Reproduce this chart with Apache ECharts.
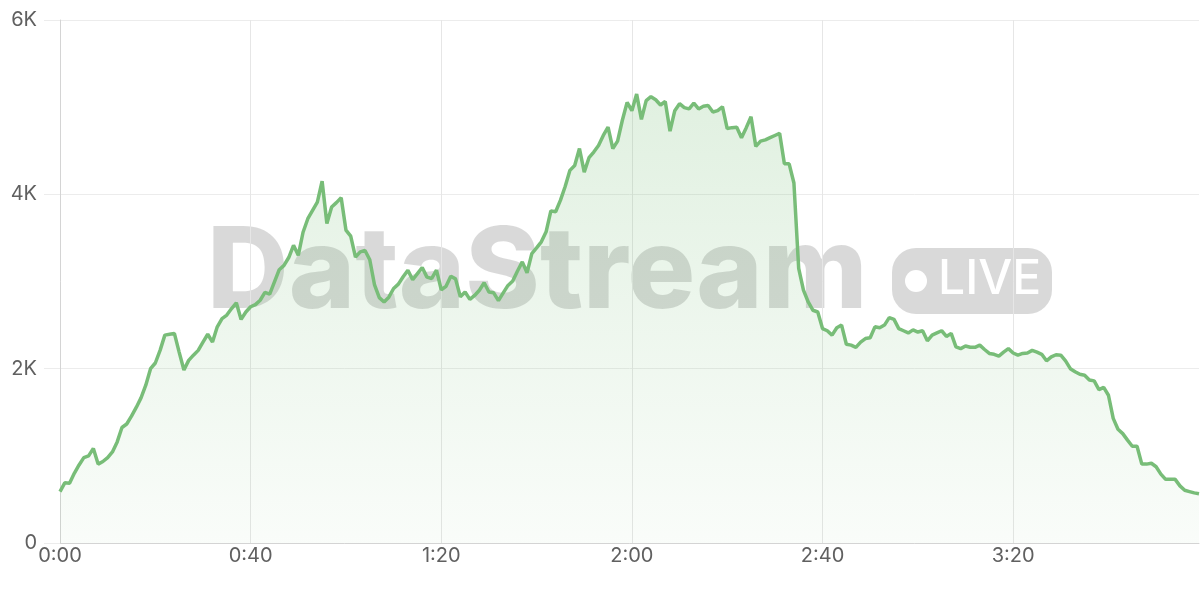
<!DOCTYPE html>
<html>
<head>
<meta charset="utf-8">
<script src="https://cdn.jsdelivr.net/npm/echarts@6/dist/echarts.min.js"></script>
<style>
html,body{margin:0;padding:0;background:#fff;}
#chart{width:1200px;height:600px;}
</style>
</head>
<body>
<div id="chart"></div>
<script>
// minute-by-minute viewer counts, 0:00 .. 3:59
const minutes = Array.from({length: 240}, (_, i) => Math.floor(i / 60) + ':' + String(i % 60).padStart(2, '0'));
const viewers = [
  590, 690, 685, 800, 895, 980, 1000, 1085, 905, 935,
  980, 1045, 1160, 1325, 1365, 1455, 1555, 1665, 1810, 2000,
  2065, 2210, 2385, 2395, 2405, 2190, 1985, 2095, 2155, 2210,
  2305, 2395, 2305, 2480, 2575, 2615, 2690, 2755, 2565, 2650,
  2710, 2735, 2785, 2875, 2855, 2995, 3135, 3185, 3275, 3415,
  3300, 3565, 3720, 3815, 3910, 4150, 3665, 3855, 3905, 3960,
  3590, 3520, 3280, 3340, 3355, 3250, 2960, 2815, 2765, 2820,
  2920, 2970, 3055, 3130, 3020, 3090, 3160, 3050, 3035, 3130,
  2905, 2945, 3060, 3030, 2825, 2880, 2795, 2840, 2900, 2985,
  2880, 2870, 2780, 2870, 2955, 3005, 3120, 3225, 3100, 3320,
  3385, 3455, 3570, 3810, 3800, 3930, 4090, 4275, 4330, 4525,
  4255, 4420, 4485, 4560, 4675, 4770, 4525, 4610, 4850, 5055,
  4960, 5150, 4860, 5075, 5120, 5085, 5025, 5065, 4725, 4960,
  5040, 4995, 4980, 5045, 4980, 5010, 5020, 4945, 4960, 5005,
  4755, 4765, 4770, 4650, 4765, 4890, 4550, 4610, 4625, 4650,
  4675, 4700, 4350, 4350, 4130, 3150, 2900, 2765, 2670, 2650,
  2460, 2435, 2385, 2470, 2500, 2280, 2270, 2245, 2305, 2345,
  2355, 2480, 2470, 2500, 2585, 2565, 2460, 2435, 2410, 2445,
  2420, 2435, 2320, 2385, 2410, 2435, 2370, 2405, 2250, 2230,
  2260, 2245, 2245, 2270, 2220, 2175, 2165, 2145, 2190, 2230,
  2180, 2155, 2175, 2180, 2210, 2190, 2165, 2090, 2135, 2160,
  2155, 2090, 2000, 1965, 1935, 1925, 1870, 1860, 1760, 1785,
  1695, 1430, 1305, 1255, 1180, 1110, 1110, 905, 905, 915,
  875, 790, 730, 730, 730, 655, 605, 590, 575, 565
];
const yTicks = [0, 2000, 4000, 6000];
const yTickLabels = ['0', '2K', '4K', '6K'];

const chart = echarts.init(document.getElementById('chart'), null, {renderer: 'canvas'});
const FONT = 'Inter, "Noto Sans", sans-serif';
chart.setOption({
  animation: false,
  backgroundColor: '#ffffff',
  grid: {left: 60, right: 1, top: 20, bottom: 57, containLabel: false},
  graphic: [
    {
      type: 'text', z: 0, left: 207, top: 218,
      style: {text: 'DataStream', fontFamily: FONT, fontWeight: 800, fontSize: 113,
              fill: 'rgba(0,0,0,0.15)'}
    },
    {
      type: 'rect', z: 0,
      shape: {x: 892, y: 248, width: 160, height: 66, r: 24},
      style: {fill: 'rgba(0,0,0,0.15)'}
    },
    {
      type: 'circle', z: 0,
      shape: {cx: 916, cy: 281, r: 11},
      style: {fill: '#ffffff'}
    },
    {
      type: 'text', z: 0, left: 938, top: 256,
      style: {text: 'LIVE', fontFamily: FONT, fontWeight: 500, fontSize: 48, fill: '#ffffff'}
    }
  ],
  xAxis: {
    type: 'category',
    data: minutes,
    boundaryGap: false,
    axisLine: {show: true, lineStyle: {color: '#d4d4d4', width: 1}},
    axisTick: {show: false},
    axisLabel: {interval: 39, color: '#606060', fontSize: 20, fontFamily: FONT, margin: 3},
    splitLine: {show: true, interval: 39, lineStyle: {color: '#e6e6e6', width: 1}}
  },
  yAxis: {
    type: 'value',
    min: 0, max: 6000, interval: 2000,
    axisLine: {show: true, lineStyle: {color: '#d4d4d4'}},
    axisTick: {show: true, length: 16, lineStyle: {color: '#ececec'}},
    axisLabel: {
      color: '#606060', fontSize: 20, fontFamily: FONT, margin: 23,
      formatter: v => yTickLabels[yTicks.indexOf(v)]
    },
    splitLine: {show: true, lineStyle: {color: '#ececec', width: 1}}
  },
  series: [{
    type: 'line',
    data: viewers,
    symbol: 'none',
    z: 3,
    lineStyle: {color: '#78bd78', width: 3.5},
    areaStyle: {
      color: new echarts.graphic.LinearGradient(0, 0, 0, 1, [
        {offset: 0, color: 'rgba(120,190,120,0.32)'},
        {offset: 1, color: 'rgba(120,190,120,0.06)'}
      ])
    }
  }]
});
</script>
</body>
</html>
